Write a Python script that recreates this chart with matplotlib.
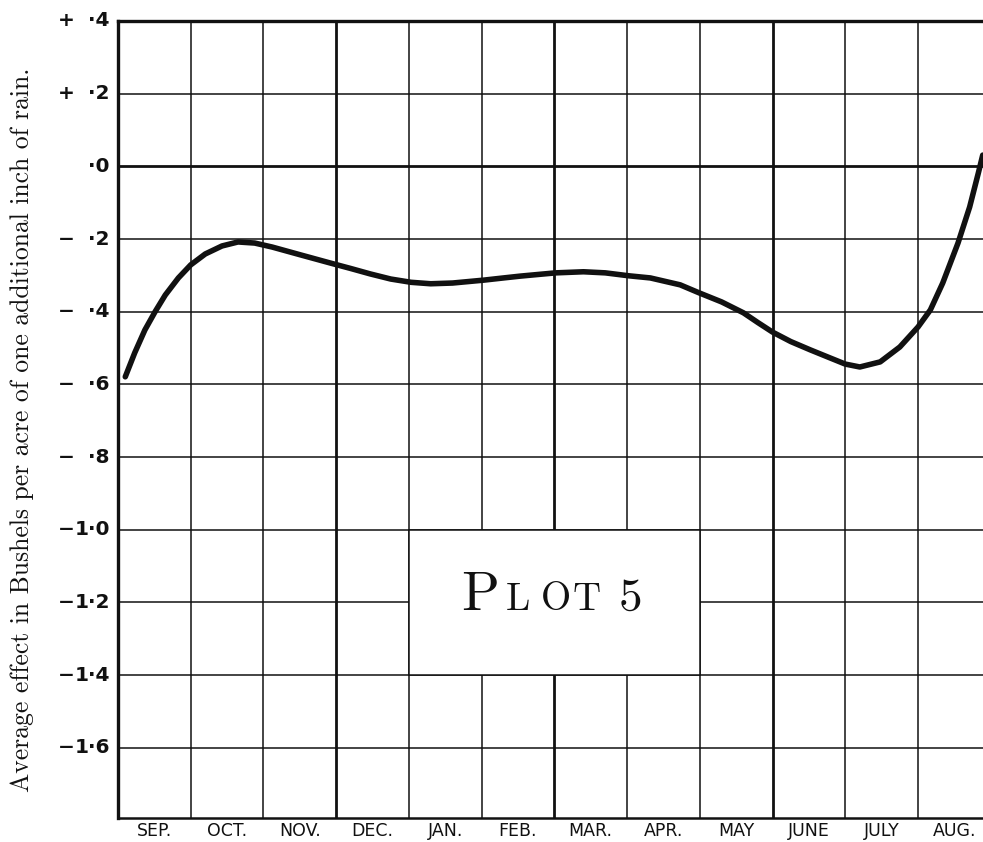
import matplotlib
matplotlib.use("Agg")
import matplotlib.pyplot as plt
from matplotlib.patches import Rectangle

# 月份（每列一个月）
months = ["SEP.", "OCT.", "NOV.", "DEC.", "JAN.", "FEB.", "MAR.", "APR.", "MAY", "JUNE", "JULY", "AUG."]
# 纵轴刻度
y_ticks = [0.4, 0.2, 0.0, -0.2, -0.4, -0.6, -0.8, -1.0, -1.2, -1.4, -1.6]
# 曲线读数: 横坐标为从九月初算起的月数
curve_x = [0.10, 0.23, 0.37, 0.51, 0.65, 0.83, 1.00, 1.20, 1.43, 1.65, 1.88, 2.12,
           2.50, 2.92, 3.20, 3.47, 3.75, 4.03, 4.30, 4.60, 5.03, 5.30, 5.53, 5.80,
           6.02, 6.40, 6.70, 7.02, 7.32, 7.73, 7.99, 8.30, 8.60, 8.80, 9.00, 9.25,
           9.52, 9.79, 10.00, 10.20, 10.48, 10.75, 11.00, 11.17, 11.34, 11.55, 11.71,
           11.83, 11.89]
curve_y = [-0.579, -0.513, -0.450, -0.400, -0.354, -0.307, -0.271, -0.241, -0.219,
           -0.208, -0.211, -0.222, -0.243, -0.266, -0.281, -0.296, -0.310, -0.319,
           -0.323, -0.321, -0.313, -0.307, -0.302, -0.297, -0.293, -0.290, -0.293,
           -0.301, -0.307, -0.326, -0.348, -0.373, -0.403, -0.430, -0.456, -0.482,
           -0.505, -0.527, -0.544, -0.552, -0.538, -0.497, -0.442, -0.395, -0.321,
           -0.211, -0.112, -0.018, 0.031]
ylabel = "Average effect in Bushels per acre of one additional inch of rain."

W, H = 983, 842
fig = plt.figure(figsize=(W / 100, H / 100), dpi=100)
left, right, top, bottom = 118, 983, 21, 818
ax = fig.add_axes([left / W, 1 - bottom / H, (right - left) / W, (bottom - top) / H])
col_w = (918 - 118) / 11
ax.set_xlim(0, (right - left) / col_w)
ax.set_ylim(-1.793, 0.4)

ink = "#111111"
# 网格线: 每季度的竖线和零线稍粗
for i in range(1, len(months)):
    lw = 2.0 if i % 3 == 0 else 1.1
    ax.axvline(i, color=ink, lw=lw, zorder=1)
for v in y_ticks[1:]:
    lw = 2.0 if v == 0 else 1.1
    ax.axhline(v, color=ink, lw=lw, zorder=1)

ax.spines["right"].set_visible(False)
ax.spines["left"].set_linewidth(2.4)
ax.spines["top"].set_linewidth(2.4)
ax.spines["bottom"].set_linewidth(1.8)
for s in ["left", "top", "bottom"]:
    ax.spines[s].set_color(ink)

# 标题框 (小型大写字母分开放)
ax.add_patch(Rectangle((4, -1.4), 4, 0.4, facecolor="white", edgecolor=ink, lw=1.1, zorder=2))
tt = ["cmr10", "DejaVu Serif"]
base = -1.22
ax.text(4.72, base, "P", fontsize=40, family=tt, color=ink, va="baseline", zorder=3)
for xx, ch in zip([5.33, 5.81, 6.25], "LOT"):
    ax.text(xx, base, ch, fontsize=28, family=tt, color=ink, va="baseline", zorder=3)
ax.text(6.88, base, "5", fontsize=34, family=tt, color=ink, va="baseline", zorder=3)

# 曲线
ax.plot(curve_x, curve_y, color=ink, lw=4.0, solid_capstyle="round",
        solid_joinstyle="round", zorder=4)

# 月份标签
ax.set_xticks([i + 0.5 for i in range(len(months))])
ax.set_xticklabels(months, fontsize=12.5, family="DejaVu Sans", color=ink)
ax.tick_params(axis="x", length=0, pad=3)
ax.set_yticks([])

# 纵轴刻度标签: 符号和数字分开放
ty = ax.get_yaxis_transform()
for v in y_ticks:
    a = round(abs(v) * 10)
    num = ("%d" % (a // 10) if a >= 10 else "") + "\u00b7" + "%d" % (a % 10)
    ax.text(-8 / (right - left), v, num, transform=ty, ha="right", va="center",
            fontsize=14.5, fontweight="bold", color=ink)
    if v != 0:
        sign = "+" if v > 0 else "\u2212"
        ax.text(-52 / (right - left), v, sign, transform=ty, ha="center", va="center",
                fontsize=14.5, fontweight="bold", color=ink)

fig.text(22 / W, 1 - 430 / H, ylabel, rotation=90, ha="center", va="center",
         fontsize=18.5, family=["cmr10", "DejaVu Serif"], color=ink)

fig.savefig("out.png", dpi=100)
